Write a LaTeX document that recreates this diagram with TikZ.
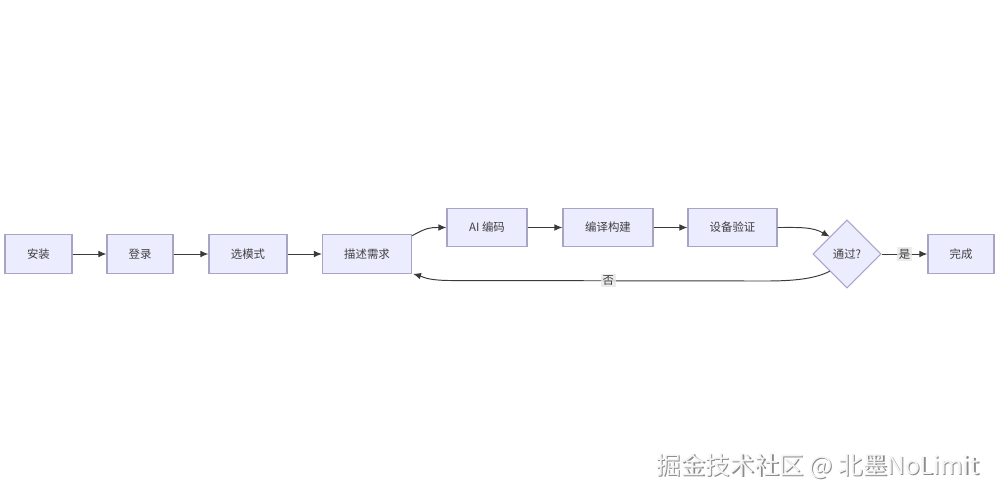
\documentclass[tikz,border=0pt]{standalone}
\usepackage{fontspec}
\setmainfont{Noto Sans CJK SC}
\usetikzlibrary{shapes.geometric,arrows.meta,calc}
\definecolor{boxfill}{HTML}{ECECFF}
\definecolor{boxline}{HTML}{A8A4C6}
\definecolor{edgecol}{HTML}{3A3A3A}
\definecolor{lblbg}{HTML}{E8E8E8}
\tikzset{
  box/.style={draw=boxline, fill=boxfill, line width=0.6pt, minimum height=0.77cm, inner sep=0pt, font=\fontsize{6.5}{8}\selectfont, text=black!75},
  decision/.style={diamond, draw=boxline, fill=boxfill, line width=0.6pt, minimum width=1.36cm, minimum height=1.36cm, inner sep=0pt, font=\fontsize{6.5}{8}\selectfont, text=black!75},
  flow/.style={draw=edgecol, line width=0.55pt, -{Latex[length=1.6mm,width=1.3mm]}},
  elabel/.style={fill=lblbg, fill opacity=0.8, text opacity=1, inner sep=1pt, font=\fontsize{6.5}{8}\selectfont, text=black!75}
}
\begin{document}
\begin{tikzpicture}
\useasboundingbox (0,0) rectangle (20,9.98);
\fill[white] (0,0) rectangle (20,9.98);
\node[box, minimum width=1.34cm] (install) at (0.77,4.90) {安装};
\node[box, minimum width=1.32cm] (login) at (2.80,4.90) {登录};
\node[box, minimum width=1.56cm] (mode) at (4.96,4.90) {选模式};
\node[box, minimum width=1.78cm] (desc) at (7.34,4.90) {描述需求};
\node[box, minimum width=1.60cm] (ai) at (9.74,5.43) {AI 编码};
\node[box, minimum width=1.80cm] (build) at (12.16,5.43) {编译构建};
\node[box, minimum width=1.78cm] (dev) at (14.65,5.43) {设备验证};
\node[decision] (pass) at (16.94,4.90) {通过?};
\node[box, minimum width=1.32cm] (done) at (19.22,4.90) {完成};

\draw[flow] (install) -- (login);
\draw[flow] (login) -- (mode);
\draw[flow] (mode) -- (desc);
\draw[flow] ($(desc.north east)+(0,-0.03)$) .. controls +(0.3,0.16) and +(-0.35,0) .. (ai.west);
\draw[flow] (ai) -- (build);
\draw[flow] (build) -- (dev);
\draw[flow] (dev.east) .. controls +(0.45,0) and +(-0.35,0.2) .. (pass.north west);
\draw[flow] (pass) -- node[elabel] {是} (done);
\draw[flow] (pass.south west) .. controls +(-0.3,-0.15) and +(0.6,0) .. ($(pass.south west)+(-1.3,-0.195)$)
  -- node[elabel, pos=0.5] {否} ($(desc.south east)+(0.8,-0.135)$)
  .. controls +(-0.5,0) and +(0.2,-0.06) .. ($(desc.south east)+(0.02,0)$);

\node[font=\fontsize{14}{16}\selectfont, text=black!45] (wmshadow) at (16.38,0.63) {掘金技术社区 @ 北墨NoLimit};
\node[font=\fontsize{14}{16}\selectfont, text=white!96!black] (wm) at (16.35,0.66) {掘金技术社区 @ 北墨NoLimit};
\end{tikzpicture}
\end{document}
